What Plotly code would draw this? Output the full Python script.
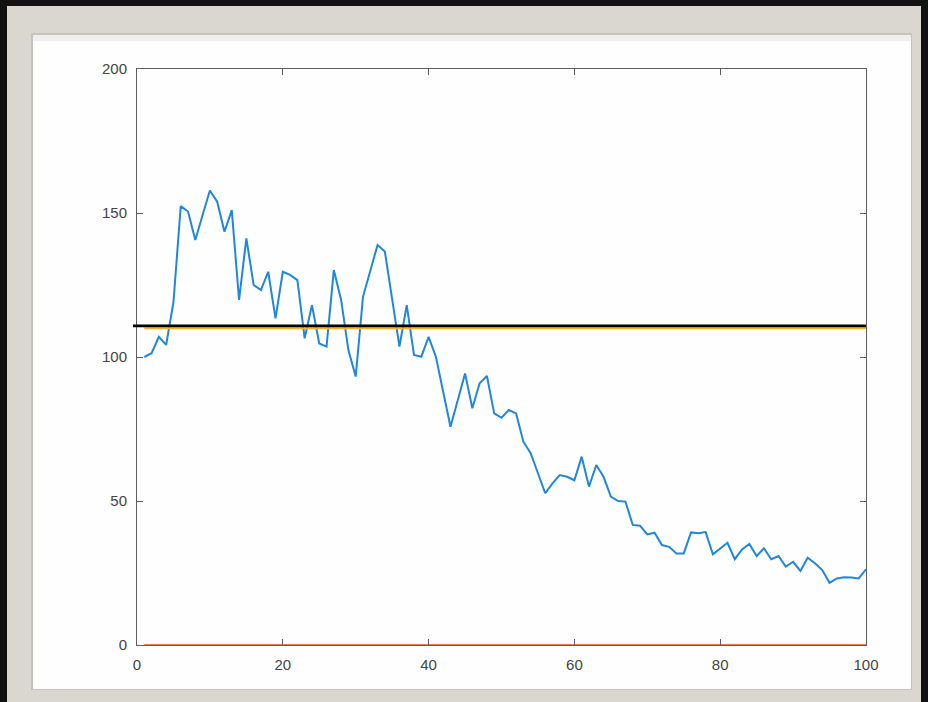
import plotly.graph_objects as go

# ---- data -------------------------------------------------------------
samples = list(range(1, 101))
signal = [
    100.0, 101.3, 107.0, 104.2, 119.0, 152.4, 150.5, 140.6, 149.3, 157.8,
    153.9, 143.5, 151.0, 119.8, 141.2, 125.0, 123.3, 129.6, 113.4, 129.6,
    128.5, 126.7, 106.5, 118.0, 104.7, 103.6, 130.2, 119.8, 102.4, 93.2,
    120.9, 130.2, 138.9, 136.6, 119.8, 103.6, 118.0, 100.7, 100.1, 107.0,
    100.1, 88.5, 75.8, 85.0, 94.3, 82.2, 90.9, 93.4, 80.4, 78.9,
    81.6, 80.4, 70.6, 66.6, 59.6, 52.7, 56.1, 59.0, 58.4, 57.2,
    65.4, 55.0, 62.5, 58.4, 51.5, 50.0, 49.8, 41.7, 41.4, 38.4,
    39.0, 34.7, 34.1, 31.8, 31.8, 39.1, 38.8, 39.2, 31.5, 33.6,
    35.5, 29.8, 33.2, 35.1, 30.9, 33.6, 29.8, 30.9, 27.2, 28.9,
    25.7, 30.3, 28.4, 26.0, 21.6, 23.1, 23.5, 23.4, 23.1, 26.3,
]
baseline = [0.0] * len(samples)
target_level = [110.0] * len(samples)
reference_level = 110.8
reference_x_start = -0.55

x_range = [0, 100]
y_range = [0, 200]
x_ticks = [0, 20, 40, 60, 80, 100]
y_ticks = [0, 50, 100, 150, 200]

# ---- page geometry (pixels) -------------------------------------------
W, H = 928, 702
L, R, T, B = 137, 62, 69, 57
PW, PH = W - L - R, H - T - B


def px_x(px):
    return (px - L) / PW


def px_y(py):
    return (H - B - py) / PH


def val_x(v):
    return (v - x_range[0]) / (x_range[1] - x_range[0])


def val_y(v):
    return (v - y_range[0]) / (y_range[1] - y_range[0])


fig = go.Figure()

fig.add_trace(go.Scatter(x=samples, y=signal, mode="lines",
                         line=dict(color="#2087da", width=2), showlegend=False))
fig.add_trace(go.Scatter(x=samples, y=baseline, mode="lines",
                         line=dict(color="#f2784a", width=2.2), showlegend=False,
                         cliponaxis=False))
fig.add_trace(go.Scatter(x=samples, y=target_level, mode="lines",
                         line=dict(color="#f2b622", width=2), showlegend=False))

shapes = [
    # window frame
    dict(type="rect", xref="paper", yref="paper", layer="below",
         x0=px_x(7), x1=px_x(921), y0=px_y(6), y1=px_y(702),
         fillcolor="#d9d7cf", line=dict(width=0)),
    dict(type="rect", xref="paper", yref="paper", layer="below",
         x0=px_x(31), x1=px_x(912), y0=px_y(33), y1=px_y(690),
         fillcolor="#c4c3bd", line=dict(width=0)),
    dict(type="rect", xref="paper", yref="paper", layer="below",
         x0=px_x(33), x1=px_x(911), y0=px_y(35), y1=px_y(689),
         fillcolor="#fefefe", line=dict(width=0)),
    dict(type="rect", xref="paper", yref="paper", layer="below",
         x0=px_x(33), x1=px_x(911), y0=px_y(35), y1=px_y(41),
         fillcolor="#efefef", line=dict(width=0)),
    # reference level line
    dict(type="line", xref="paper", yref="paper", layer="above",
         x0=val_x(reference_x_start), x1=val_x(x_range[1]),
         y0=val_y(reference_level), y1=val_y(reference_level),
         line=dict(color="#000000", width=2.6)),
]

axis_common = dict(
    showgrid=False, zeroline=False, showline=True, linecolor="#5e5e5e",
    linewidth=1, mirror="ticks", ticks="inside", ticklen=6, tickwidth=1,
    tickcolor="#5e5e5e",
    tickfont=dict(family="Liberation Sans, Arial, sans-serif", size=15,
                  color="#444444"),
)

fig.update_layout(
    width=W, height=H,
    margin=dict(l=L, r=R, t=T, b=B, pad=0),
    paper_bgcolor="#121212",
    plot_bgcolor="rgba(0,0,0,0)",
    shapes=shapes,
    xaxis=dict(range=x_range, tickvals=x_ticks, ticklabelstandoff=6,
               **axis_common),
    yaxis=dict(range=y_range, tickvals=y_ticks, ticklabelstandoff=6,
               **axis_common),
)

fig.write_html("out.html")
